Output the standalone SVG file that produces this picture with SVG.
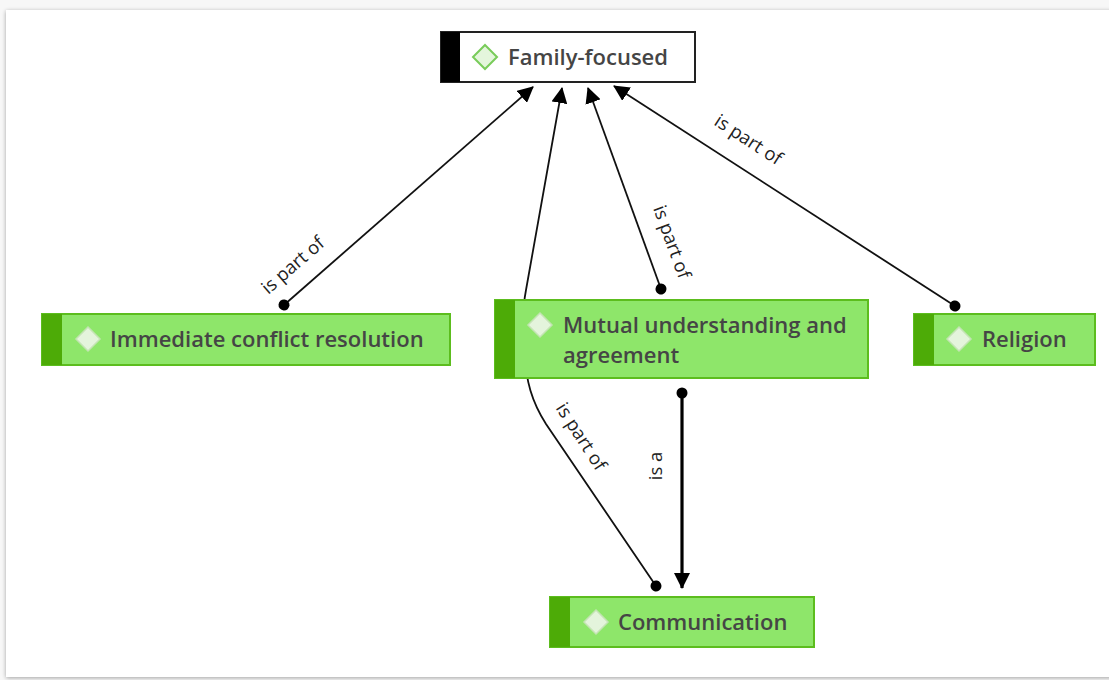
<svg xmlns="http://www.w3.org/2000/svg" width="1109" height="680" viewBox="0 0 1109 680">
  <defs>
    <marker id="arrow" viewBox="0 0 16 16" refX="15" refY="8" markerWidth="16" markerHeight="16" markerUnits="userSpaceOnUse" orient="auto">
      <path d="M0,0 L16,8 L0,16 Z" fill="#000"/>
    </marker>
    <marker id="dot" viewBox="0 0 12 12" refX="6" refY="6" markerWidth="12" markerHeight="12" markerUnits="userSpaceOnUse" orient="auto">
      <circle cx="6" cy="6" r="5.5" fill="#000"/>
    </marker>
    <filter id="shadow" x="-5%" y="-5%" width="110%" height="110%">
      <feGaussianBlur in="SourceAlpha" stdDeviation="2"/>
      <feOffset dx="0" dy="1"/>
      <feComponentTransfer><feFuncA type="linear" slope="0.35"/></feComponentTransfer>
      <feMerge><feMergeNode/><feMergeNode in="SourceGraphic"/></feMerge>
    </filter>
  </defs>
  <style>
    .node-body { fill: #8ee66a; stroke: #5cbd1e; stroke-width: 2; }
    .node-bar { fill: #4dab07; }
    .root-body { fill: #ffffff; stroke: #222; stroke-width: 2; }
    .root-bar { fill: #000; }
    .diamond { fill: #e4f4dc; stroke: #c4e4b4; stroke-width: 1.5; }
    .root-diamond { fill: #e4f6dc; stroke: #79cc5a; stroke-width: 2; }
    .label { font-family: "Open Sans", "Noto Sans", sans-serif; font-weight: 600; font-size: 22px; fill: #454545; }
    .edge { fill: none; stroke: #111; stroke-width: 1.8; }
    .edge-bold { fill: none; stroke: #000; stroke-width: 3.2; }
    .edge-label { font-family: "Open Sans", "Noto Sans", sans-serif; font-size: 18.5px; fill: #222; }
  </style>

  <!-- page -->
  <rect x="0" y="0" width="1109" height="680" fill="#f7f7f7"/>
  <rect x="6" y="10" width="1110" height="667" fill="#ffffff" filter="url(#shadow)"/>

  <!-- connectors -->
  <g id="connectors">
    <path class="edge" d="M284,305 L533,87" marker-start="url(#dot)" marker-end="url(#arrow)"/>
    <path class="edge" d="M656,586 L546,424 C532,402 526,382 524,350 C522,320 523,305 526,290 L562,88" marker-start="url(#dot)" marker-end="url(#arrow)"/>
    <path class="edge" d="M661,289 L588,88" marker-start="url(#dot)" marker-end="url(#arrow)"/>
    <path class="edge" d="M955,306 L614,86" marker-start="url(#dot)" marker-end="url(#arrow)"/>
    <path class="edge-bold" d="M682,393 L682,588" marker-start="url(#dot)" marker-end="url(#arrow)"/>

    <text class="edge-label" transform="translate(297,270) rotate(-41)" text-anchor="middle">is part of</text>
    <text class="edge-label" transform="translate(666,244) rotate(70)" text-anchor="middle">is part of</text>
    <text class="edge-label" transform="translate(745,145) rotate(33)" text-anchor="middle">is part of</text>
    <text class="edge-label" transform="translate(576,440) rotate(57)" text-anchor="middle">is part of</text>
    <text class="edge-label" transform="translate(662,466) rotate(-90)" text-anchor="middle">is a</text>
  </g>

  <!-- nodes -->
  <g id="family-focused">
    <rect class="root-body" x="441" y="32" width="254" height="50"/>
    <rect class="root-bar" x="441" y="32" width="19" height="50"/>
    <path class="root-diamond" d="M485,45 L497,57 L485,69 L473,57 Z"/>
    <text class="label" x="508" y="65">Family-focused</text>
  </g>

  <g id="immediate-conflict-resolution">
    <rect class="node-body" x="42" y="314" width="408" height="51"/>
    <rect class="node-bar" x="42" y="314" width="20" height="51"/>
    <path class="diamond" d="M88,327 L100,339 L88,351 L76,339 Z"/>
    <text class="label" x="110" y="347">Immediate conflict resolution</text>
  </g>

  <g id="mutual-understanding">
    <rect class="node-body" x="495" y="300" width="373" height="78"/>
    <rect class="node-bar" x="495" y="300" width="20" height="78"/>
    <path class="diamond" d="M540,313 L552,325 L540,337 L528,325 Z"/>
    <text class="label" x="563" y="333">Mutual understanding and</text>
    <text class="label" x="563" y="363">agreement</text>
  </g>

  <g id="religion">
    <rect class="node-body" x="914" y="314" width="181" height="51"/>
    <rect class="node-bar" x="914" y="314" width="20" height="51"/>
    <path class="diamond" d="M959,327 L971,339 L959,351 L947,339 Z"/>
    <text class="label" x="982" y="347">Religion</text>
  </g>

  <g id="communication">
    <rect class="node-body" x="550" y="597" width="264" height="50"/>
    <rect class="node-bar" x="550" y="597" width="20" height="50"/>
    <path class="diamond" d="M596,610 L608,622 L596,634 L584,622 Z"/>
    <text class="label" x="618" y="630">Communication</text>
  </g>
</svg>
